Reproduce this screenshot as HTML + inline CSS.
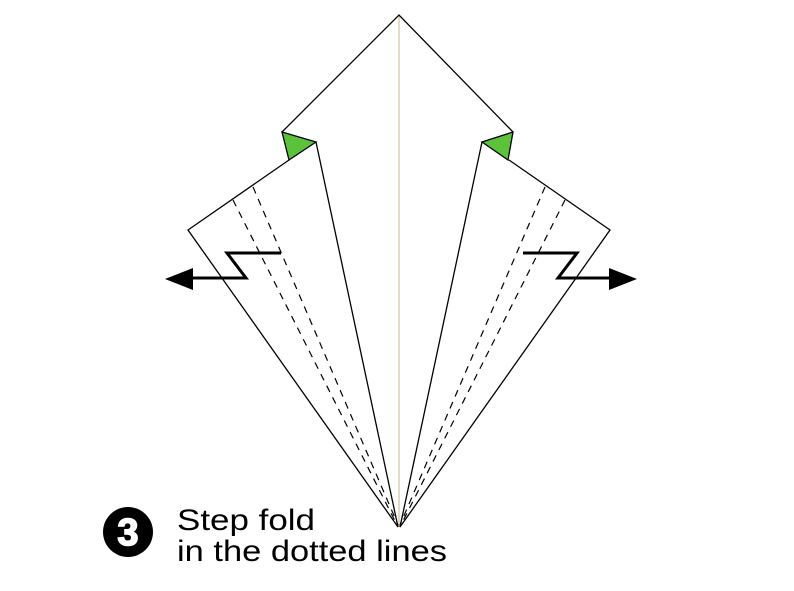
<!DOCTYPE html>
<html><head><meta charset="utf-8"><style>
html,body{margin:0;padding:0;background:#fff;}
svg{display:block;}
</style></head><body>
<svg width="794" height="591" viewBox="0 0 794 591">
  <g>
    <line x1="399" y1="15" x2="399" y2="527" stroke="#d6bfa0" stroke-width="1.2"/>
  </g>
  <g fill="none" stroke="#000" stroke-width="1.3">
    <polyline points="282,132 399,15 513,132"/>
    <polyline points="316,142 398,527 188,230 289,160"/>
    <polyline points="482,142 400,527 610,230 509,160"/>
  </g>
  <polygon points="282,132 316,142 289,160" fill="#5cc23c" stroke="#000" stroke-width="1.3"/>
  <polygon points="513,132 482,142 508,160" fill="#5cc23c" stroke="#000" stroke-width="1.3"/>
  <g stroke="#000" stroke-width="1.2" stroke-dasharray="7,6" fill="none">
    <line x1="233" y1="200" x2="397" y2="525"/>
    <line x1="253" y1="187" x2="398" y2="525"/>
    <line x1="565" y1="200" x2="401" y2="525"/>
    <line x1="545" y1="187" x2="400" y2="525"/>
  </g>
  <g>
    <polyline points="281,253 227,253 246,278 190,278" fill="none" stroke="#000" stroke-width="3"/>
    <polygon points="165,279 193,268 193,290" fill="#000"/>
  </g>
  <g>
    <polyline points="523,253 577,253 558,278 612,278" fill="none" stroke="#000" stroke-width="3"/>
    <polygon points="637,279 609,268 609,290" fill="#000"/>
  </g>
  <g>
    <circle cx="128" cy="532" r="25" fill="#000"/>
    <text x="128" y="545" text-anchor="middle" font-family="Liberation Sans, sans-serif" font-weight="bold" font-size="38" fill="#fff" stroke="#fff" stroke-width="1.5">3</text>
  </g>
  <text x="177" y="530" font-family="Liberation Sans, sans-serif" font-size="30" fill="#000" textLength="138" lengthAdjust="spacingAndGlyphs">Step fold</text>
  <text x="177" y="561" font-family="Liberation Sans, sans-serif" font-size="30" fill="#000" textLength="270" lengthAdjust="spacingAndGlyphs">in the dotted lines</text>
</svg>
</body></html>
